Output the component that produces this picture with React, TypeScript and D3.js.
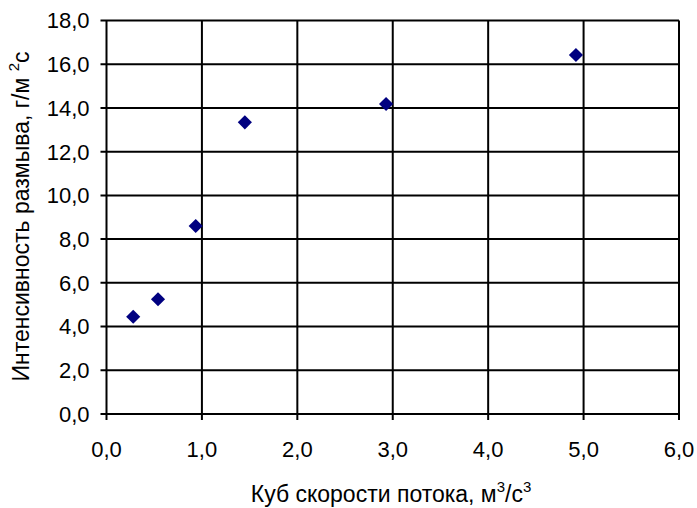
import React, { useRef, useEffect } from "react";
import * as d3 from "d3";

// cube of flow velocity, m3/s3
const flowCube = [0.28, 0.54, 0.935, 1.45, 2.93, 4.92];
// erosion intensity, g/m2s
const erosion = [4.45, 5.25, 8.6, 13.34, 14.18, 16.42];

const xTicks = [0, 1, 2, 3, 4, 5, 6];
const yTicks = [0, 2, 4, 6, 8, 10, 12, 14, 16, 18];

const fmt = (v: number) => v.toFixed(1).replace(".", ",");

export default function App() {
  const svgRef = useRef<SVGSVGElement>(null);

  useEffect(() => {
    const width = 697;
    const height = 508;
    const left = 106.5, right = 679, top = 20.5, bottom = 414;
    const font = "'Liberation Sans', Arial, sans-serif";

    const svg = d3.select(svgRef.current)
      .attr("width", width)
      .attr("height", height);
    svg.selectAll("*").remove();

    const x = d3.scaleLinear().domain([0, 6]).range([left, right]);
    const y = d3.scaleLinear().domain([0, 18]).range([bottom, top]);

    // grid
    const grid = svg.append("g").attr("stroke", "#000").attr("stroke-width", 2);
    grid.selectAll("line.h")
      .data(yTicks)
      .join("line")
      .attr("class", "h")
      .attr("x1", left - 6)
      .attr("x2", right)
      .attr("y1", d => y(d))
      .attr("y2", d => y(d));
    grid.selectAll("line.v")
      .data(xTicks)
      .join("line")
      .attr("class", "v")
      .attr("x1", d => x(d))
      .attr("x2", d => x(d))
      .attr("y1", top)
      .attr("y2", bottom + 6);

    // tick labels
    svg.append("g")
      .selectAll("text")
      .data(yTicks)
      .join("text")
      .attr("x", left - 17)
      .attr("y", d => y(d))
      .attr("dy", "0.36em")
      .attr("text-anchor", "end")
      .attr("font-family", font)
      .attr("font-size", 22)
      .text(d => fmt(d));

    svg.append("g")
      .selectAll("text")
      .data(xTicks)
      .join("text")
      .attr("x", d => x(d))
      .attr("y", 456.5)
      .attr("text-anchor", "middle")
      .attr("font-family", font)
      .attr("font-size", 22)
      .text(d => fmt(d));

    // points
    svg.append("g")
      .selectAll("path")
      .data(flowCube)
      .join("path")
      .attr("d", d3.symbol(d3.symbolSquare, 100)())
      .attr("transform", (d, i) => `translate(${x(d)},${y(erosion[i])}) rotate(45)`)
      .attr("fill", "#000080");

    // axis titles
    const xt = svg.append("text")
      .attr("x", 391)
      .attr("y", 501.5)
      .attr("text-anchor", "middle")
      .attr("font-family", font)
      .attr("font-size", 23);
    xt.append("tspan").text("Куб скорости потока, м");
    xt.append("tspan").attr("font-size", 15).attr("dy", -10).text("3");
    xt.append("tspan").attr("dy", 10).text("/с");
    xt.append("tspan").attr("font-size", 15).attr("dy", -10).text("3");

    const yt = svg.append("text")
      .attr("transform", "translate(28.5,216.5) rotate(-90)")
      .attr("text-anchor", "middle")
      .attr("font-family", font)
      .attr("font-size", 23);
    yt.append("tspan").text("Интенсивность размыва, г/м  ");
    yt.append("tspan").attr("font-size", 15).attr("dy", -10).text("2");
    yt.append("tspan").attr("dy", 10).text("с");
  }, []);

  return (
    <div>
      <svg ref={svgRef} style={{ position: "absolute", left: 0, top: 0 }}></svg>
    </div>
  );
}
